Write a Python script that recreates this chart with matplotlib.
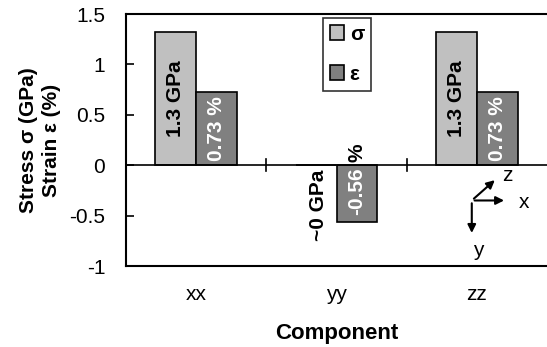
import matplotlib
matplotlib.use('Agg')
import matplotlib.pyplot as plt
import numpy as np

plt.rcParams['font.family'] = ['Liberation Sans', 'DejaVu Sans']

components = ['xx', 'yy', 'zz']
stress = [1.32, 0.0, 1.32]
strain = [0.73, -0.56, 0.73]
stress_labels = ['1.3 GPa', '~0 GPa', '1.3 GPa']
strain_labels = ['0.73 %', '-0.56', '0.73 %']
yticks = [-1, -0.5, 0, 0.5, 1, 1.5]
ytick_labels = ['-1', '-0.5', '0', '0.5', '1', '1.5']

FS = 15

fig = plt.figure(figsize=(5.47, 3.47), dpi=100)
ax = fig.add_axes([126 / 547, 1 - 266 / 347, 1 - 126 / 547, (266 - 14) / 347])

x = np.arange(len(components))
w = 0.29
ax.bar(x - w / 2, stress, w, color='#c0c0c0', edgecolor='black', linewidth=1.2, label='σ')
ax.bar(x + w / 2, strain, w, color='#808080', edgecolor='black', linewidth=1.2, label='ε')

ax.set_xlim(-0.5, 2.5)
ax.set_ylim(-1, 1.5)
ax.axhline(0, color='black', linewidth=1.2, zorder=3)
for b in [0.5, 1.5]:
  ax.plot([b, b], [-0.06, 0.06], color='black', linewidth=1.2)

ax.set_yticks(yticks)
ax.set_yticklabels(ytick_labels, fontsize=FS)
ax.tick_params(axis='y', direction='in', length=6, width=1.2, pad=15)
ax.set_xticks(x)
ax.set_xticklabels(components, fontsize=FS)
ax.tick_params(axis='x', length=0, pad=14)
for s in ['left', 'top', 'bottom']:
  ax.spines[s].set_linewidth(1.5)
ax.spines['right'].set_visible(False)

ax.set_xlabel('Component', fontsize=16, fontweight='bold', labelpad=13)
ax.set_ylabel('Stress σ (GPa)\nStrain ε (%)', fontsize=FS, fontweight='bold', labelpad=6,
              linespacing=1.25)

# value labels in the bars
for i in [0, 2]:
  ax.text(x[i] - w / 2, stress[i] / 2, stress_labels[i], rotation=90, ha='center', va='center',
          fontsize=FS, fontweight='bold', color='black')
  ax.text(x[i] + w / 2, strain[i] / 2, strain_labels[i], rotation=90, ha='center', va='center',
          fontsize=FS, fontweight='bold', color='white')
ax.text(x[1] - w / 2 + 0.02, -0.04, stress_labels[1], rotation=90, ha='center', va='top',
        fontsize=FS, fontweight='bold', color='black')
ax.text(x[1] + w / 2, strain[1] / 2 + 0.02, strain_labels[1], rotation=90, ha='center', va='center',
        fontsize=FS, fontweight='bold', color='white')
ax.text(x[1] + w / 2, 0.03, '%', rotation=90, ha='center', va='bottom',
        fontsize=FS, fontweight='bold', color='black')

leg = ax.legend(loc='upper left', bbox_to_anchor=(0.467, 0.985), borderaxespad=0, frameon=True,
                fancybox=False, edgecolor='black', prop={'size': FS, 'weight': 'bold'},
                handlelength=0.7, handleheight=0.7, handletextpad=0.25, borderpad=0.35,
                labelspacing=1.0)
leg.get_frame().set_linewidth(1.2)

# coordinate system glyph
o = (1.964, -0.35)
arrow = dict(arrowstyle='-|>', color='black', lw=1.5, mutation_scale=12)
ax.annotate('', xy=(2.214, -0.35), xytext=o, arrowprops=arrow)
ax.annotate('', xy=(1.964, -0.7), xytext=o, arrowprops=arrow)
ax.annotate('', xy=(2.143, -0.13), xytext=o, arrowprops=arrow)
ax.text(2.336, -0.37, 'x', fontsize=FS, ha='center', va='center')
ax.text(2.007, -0.85, 'y', fontsize=FS, ha='center', va='center')
ax.text(2.22, -0.1, 'z', fontsize=FS, ha='center', va='center')

fig.savefig('out.png', dpi=100)
